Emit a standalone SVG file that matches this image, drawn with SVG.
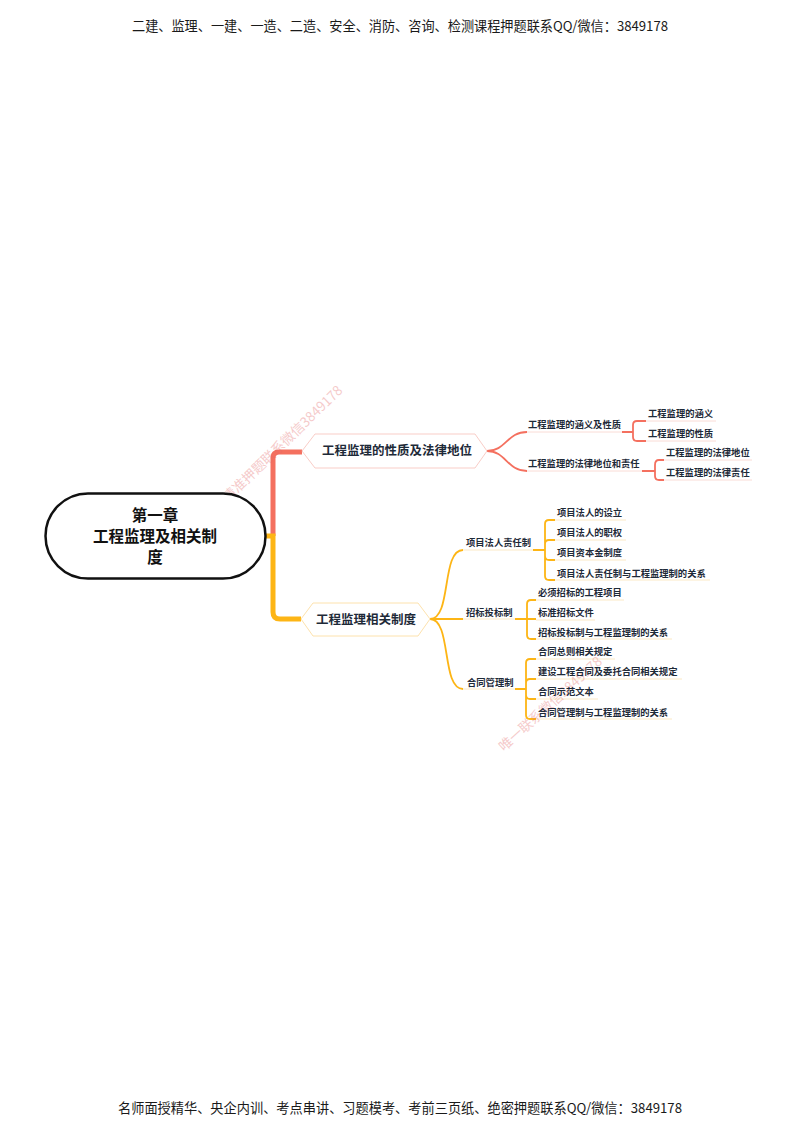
<svg xmlns="http://www.w3.org/2000/svg" width="800" height="1130" viewBox="0 0 800 1130">
<style>
.hdr{font-family:"Noto Sans CJK SC","Liberation Sans",sans-serif;font-size:13.4px;fill:#1a1a1a}
.root{font-family:"Noto Sans CJK SC","Liberation Sans",sans-serif;font-size:15.5px;font-weight:bold;fill:#111;text-anchor:middle}
.l1{font-family:"Noto Sans CJK SC","Liberation Sans",sans-serif;font-size:12.5px;font-weight:bold;fill:#1e2a38}
.t{font-family:"Noto Sans CJK SC","Liberation Sans",sans-serif;font-size:9.3px;font-weight:bold;fill:#1e2a38}
.wm{font-family:"Noto Sans CJK SC","Liberation Sans",sans-serif;font-size:13.5px;fill:#e46a6a;opacity:0.35}
.red{fill:none;stroke:#F4705F;stroke-width:1.8}
.org{fill:none;stroke:#FDB515;stroke-width:1.8}
.ulr{fill:none;stroke:#fadcd6;stroke-width:1}
.ulo{fill:none;stroke:#fbe9c6;stroke-width:1}
</style>
<rect width="800" height="1130" fill="#ffffff"/>
<text class="hdr" x="132" y="30.5" textLength="536" lengthAdjust="spacingAndGlyphs">二建、监理、一建、一造、二造、安全、消防、咨询、检测课程押题联系QQ/微信：3849178</text>
<text class="hdr" x="118" y="1112.5" textLength="564" lengthAdjust="spacingAndGlyphs">名师面授精华、央企内训、考点串讲、习题模考、考前三页纸、绝密押题联系QQ/微信：3849178</text>

<g id="connectors">
  <path d="M273,536 V458 Q273,452 279,452 H302" fill="none" stroke="#F4705F" stroke-width="5"/>
  <path d="M264,536 H273 V612 Q273,619 280,619 H301" fill="none" stroke="#FDB515" stroke-width="5"/>
  <!-- top branch -->
  <path class="red" d="M487,451 C506,451 507,432 527,432"/>
  <path class="red" d="M487,451 C506,451 507,471 527,471"/>
  <path class="red" d="M622,432 H633 M633,432 V425 Q633,421 637,421 H646 M633,432 V437 Q633,441 637,441 H646"/>
  <path class="red" d="M642,471 H655 M655,471 V465 Q655,460 659,460 H664 M655,471 V476 Q655,480 659,480 H664"/>
  <path class="ulr" d="M527,432 H622 M527,471 H642 M646,421 H716 M646,441 H716 M664,460 H752 M664,480 H752"/>
  <!-- bottom branch -->
  <path class="org" d="M430,619 C452,619 441,550 463,550"/>
  <path class="org" d="M430,619 H463"/>
  <path class="org" d="M430,619 C452,619 441,689 463,689"/>
  <path class="org" d="M533,550 H545 M545,550 V524 Q545,520 549,520 H555 M545,550 V544 Q545,540 549,540 H555 M545,550 V556 Q545,560 549,560 H555 M545,550 V576 Q545,580 549,580 H555"/>
  <path class="org" d="M515,619 H527 M527,619 V604 Q527,600 531,600 H536 M527,619 V619 H536 M527,619 V635 Q527,639 531,639 H536"/>
  <path class="org" d="M515,689 H526 M526,689 V663 Q526,659 530,659 H536 M526,689 V683 Q526,679 530,679 H536 M526,689 V695 Q526,699 530,699 H536 M526,689 V715 Q526,719 530,719 H536"/>
  <path class="ulo" d="M463,550 H533 M463,619 H515 M463,689 H515 M555,520 H626 M555,540 H626 M555,560 H626 M555,580 H710 M536,600 H624 M536,620 H595 M536,639 H672 M536,659 H615 M536,679 H682 M536,699 H598 M536,719 H672"/>
</g>

<g id="wm1"><text class="wm" transform="translate(228,503) rotate(-44)">精准押题联系微信3849178</text></g>
<g id="wm2"><text class="wm" transform="translate(504,752) rotate(-42)">唯一联系微信3849178</text></g>

<g id="root">
  <rect x="45.5" y="493.5" width="220" height="85" rx="42.5" fill="#ffffff" stroke="#111" stroke-width="2.5"/>
  <text class="root" x="155" y="520.5">第一章</text>
  <text class="root" x="155" y="541.5">工程监理及相关制</text>
  <text class="root" x="155" y="562.5">度</text>
</g>

<g id="n-xingzhi">
  <polygon points="302,451 315,434 475,434 487,451 475,468 315,468" fill="#ffffff" stroke="#f9cdc7" stroke-width="1"/>
  <text class="l1" x="322" y="455.4">工程监理的性质及法律地位</text>
</g>
<g id="n-hanyi-xingzhi"><text class="t" x="528" y="428.3">工程监理的涵义及性质</text></g>
<g id="n-hanyi"><text class="t" x="648" y="417.3">工程监理的涵义</text></g>
<g id="n-xingzhi2"><text class="t" x="648" y="437.3">工程监理的性质</text></g>
<g id="n-diwei-zeren"><text class="t" x="528" y="467.3">工程监理的法律地位和责任</text></g>
<g id="n-diwei"><text class="t" x="666" y="456.3">工程监理的法律地位</text></g>
<g id="n-zeren"><text class="t" x="666" y="476.3">工程监理的法律责任</text></g>

<g id="n-zhidu">
  <polygon points="301,619 313,603 418,603 430,619 418,636 313,636" fill="#ffffff" stroke="#fde2ad" stroke-width="1"/>
  <text class="l1" x="316" y="624">工程监理相关制度</text>
</g>
<g id="n-faren"><text class="t" x="466" y="546.3">项目法人责任制</text></g>
<g id="n-faren1"><text class="t" x="557" y="516.3">项目法人的设立</text></g>
<g id="n-faren2"><text class="t" x="557" y="536.3">项目法人的职权</text></g>
<g id="n-faren3"><text class="t" x="557" y="556.3">项目资本金制度</text></g>
<g id="n-faren4"><text class="t" x="557" y="577.3">项目法人责任制与工程监理制的关系</text></g>
<g id="n-zhaobiao"><text class="t" x="466" y="616.3">招标投标制</text></g>
<g id="n-zb1"><text class="t" x="538" y="596.3">必须招标的工程项目</text></g>
<g id="n-zb2"><text class="t" x="538" y="616.3">标准招标文件</text></g>
<g id="n-zb3"><text class="t" x="538" y="636.3">招标投标制与工程监理制的关系</text></g>
<g id="n-hetong"><text class="t" x="467" y="686.3">合同管理制</text></g>
<g id="n-ht1"><text class="t" x="538" y="655.3">合同总则相关规定</text></g>
<g id="n-ht2"><text class="t" x="538" y="675.3">建设工程合同及委托合同相关规定</text></g>
<g id="n-ht3"><text class="t" x="538" y="695.3">合同示范文本</text></g>
<g id="n-ht4"><text class="t" x="538" y="716.3">合同管理制与工程监理制的关系</text></g>
</svg>
